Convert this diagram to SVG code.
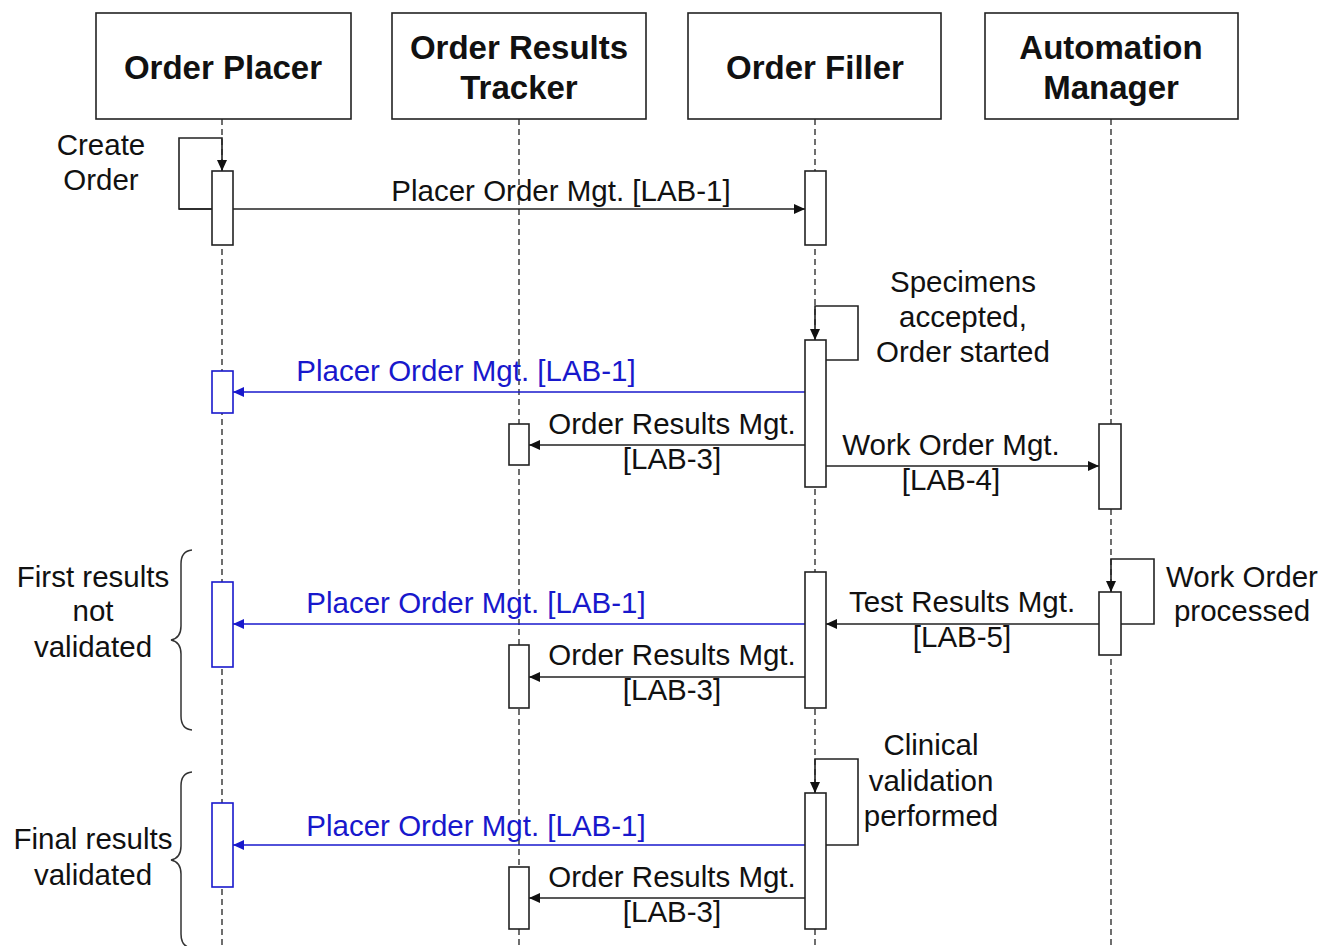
<svg xmlns="http://www.w3.org/2000/svg" width="1324" height="946" viewBox="0 0 1324 946">
<style>
.box{fill:#fff;stroke:#222;stroke-width:1.6}
.life{stroke:#222;stroke-width:1.3;stroke-dasharray:6,4;fill:none}
.act{fill:#fff;stroke:#222;stroke-width:1.6}
.actb{fill:#fff;stroke:#1818cc;stroke-width:1.6}
.hdr{font-family:"Liberation Sans",Arial,sans-serif;font-weight:bold;font-size:33px;fill:#111;text-anchor:middle}
.lbl{font-family:"Liberation Sans",Arial,sans-serif;font-size:29.5px;fill:#111;text-anchor:middle}
.blue{fill:#1818cc}
.msg{stroke:#222;stroke-width:1.6;fill:none;marker-end:url(#ah)}
.msgb{stroke:#1818cc;stroke-width:1.6;fill:none;marker-end:url(#ahb)}
.brace{stroke:#333;stroke-width:1.5;fill:none}
</style>
<defs>
<marker id="ah" markerUnits="userSpaceOnUse" markerWidth="11" markerHeight="10" refX="11" refY="5" orient="auto"><path d="M0,0 L11,5 L0,10 z" fill="#111"/></marker>
<marker id="ahb" markerUnits="userSpaceOnUse" markerWidth="11" markerHeight="10" refX="11" refY="5" orient="auto"><path d="M0,0 L11,5 L0,10 z" fill="#1818cc"/></marker>
</defs>
<rect width="1324" height="946" fill="#fff"/>

<g id="order-placer">
<line class="life" x1="222" y1="119" x2="222" y2="946"/>
<rect class="box" x="96" y="13" width="255" height="106"/>
<text class="hdr" x="223" y="79">Order Placer</text>
</g>
<g id="order-results-tracker">
<line class="life" x1="519" y1="119" x2="519" y2="946"/>
<rect class="box" x="392" y="13" width="254" height="106"/>
<text class="hdr" x="519" y="59">Order Results</text>
<text class="hdr" x="519" y="99">Tracker</text>
</g>
<g id="order-filler">
<line class="life" x1="815" y1="119" x2="815" y2="946"/>
<rect class="box" x="688" y="13" width="253" height="106"/>
<text class="hdr" x="815" y="79">Order Filler</text>
</g>
<g id="automation-manager">
<line class="life" x1="1111" y1="119" x2="1111" y2="946"/>
<rect class="box" x="985" y="13" width="253" height="106"/>
<text class="hdr" x="1111" y="59">Automation</text>
<text class="hdr" x="1111" y="99">Manager</text>
</g>

<g id="connectors">
<polyline class="msg" points="212,209 179,209 179,138 222,138 222,171"/>
<line class="msg" x1="179" y1="209" x2="805" y2="209"/>
<polyline class="msg" points="826,360 858,360 858,306 815,306 815,340"/>
<line class="msgb" x1="805" y1="392" x2="233" y2="392"/>
<line class="msg" x1="805" y1="445" x2="529" y2="445"/>
<line class="msg" x1="826" y1="466" x2="1099" y2="466"/>
<polyline class="msg" points="1121,624 1154,624 1154,559 1111,559 1111,592"/>
<line class="msg" x1="1099" y1="624" x2="826" y2="624"/>
<line class="msgb" x1="805" y1="624" x2="233" y2="624"/>
<line class="msg" x1="805" y1="677" x2="529" y2="677"/>
<polyline class="msg" points="826,845 858,845 858,759 815,759 815,793"/>
<line class="msgb" x1="805" y1="845" x2="233" y2="845"/>
<line class="msg" x1="805" y1="898" x2="529" y2="898"/>
</g>

<g id="activations">
<rect class="act" x="212" y="171" width="21" height="74"/>
<rect class="act" x="805" y="171" width="21" height="74"/>
<rect class="act" x="805" y="340" width="21" height="147"/>
<rect class="actb" x="212" y="371" width="21" height="42"/>
<rect class="act" x="509" y="424" width="20" height="41"/>
<rect class="act" x="1099" y="424" width="22" height="85"/>
<rect class="act" x="805" y="572" width="21" height="136"/>
<rect class="act" x="1099" y="592" width="22" height="63"/>
<rect class="actb" x="212" y="582" width="21" height="85"/>
<rect class="act" x="509" y="645" width="20" height="63"/>
<rect class="act" x="805" y="793" width="21" height="136"/>
<rect class="actb" x="212" y="803" width="21" height="84"/>
<rect class="act" x="509" y="867" width="20" height="62"/>
</g>

<g id="labels">
<text class="lbl" x="101" y="155">Create</text>
<text class="lbl" x="101" y="190">Order</text>
<text class="lbl" x="561" y="201">Placer Order Mgt. [LAB-1]</text>
<text class="lbl" x="963" y="292">Specimens</text>
<text class="lbl" x="963" y="327">accepted,</text>
<text class="lbl" x="963" y="362">Order started</text>
<text class="lbl blue" x="466" y="381">Placer Order Mgt. [LAB-1]</text>
<text class="lbl" x="672" y="434">Order Results Mgt.</text>
<text class="lbl" x="672" y="469">[LAB-3]</text>
<text class="lbl" x="951" y="455">Work Order Mgt.</text>
<text class="lbl" x="951" y="490">[LAB-4]</text>
<text class="lbl" x="1242" y="587">Work Order</text>
<text class="lbl" x="1242" y="621">processed</text>
<text class="lbl" x="962" y="612">Test Results Mgt.</text>
<text class="lbl" x="962" y="647">[LAB-5]</text>
<text class="lbl blue" x="476" y="613">Placer Order Mgt. [LAB-1]</text>
<text class="lbl" x="672" y="665">Order Results Mgt.</text>
<text class="lbl" x="672" y="700">[LAB-3]</text>
<text class="lbl" x="931" y="755">Clinical</text>
<text class="lbl" x="931" y="791">validation</text>
<text class="lbl" x="931" y="826">performed</text>
<text class="lbl blue" x="476" y="836">Placer Order Mgt. [LAB-1]</text>
<text class="lbl" x="672" y="887">Order Results Mgt.</text>
<text class="lbl" x="672" y="922">[LAB-3]</text>
</g>

<g id="group-first-results">
<path class="brace" d="M192,550 Q181,551 181,564 L181,626 Q181,638 171,640 Q181,642 181,654 L181,716 Q181,729 192,730"/>
<text class="lbl" x="93" y="587">First results</text>
<text class="lbl" x="93" y="621">not</text>
<text class="lbl" x="93" y="657">validated</text>
</g>
<g id="group-final-results">
<path class="brace" d="M192,772 Q181,773 181,786 L181,846 Q181,858 171,860 Q181,862 181,874 L181,934 Q181,947 192,948"/>
<text class="lbl" x="93" y="849">Final results</text>
<text class="lbl" x="93" y="885">validated</text>
</g>
</svg>
